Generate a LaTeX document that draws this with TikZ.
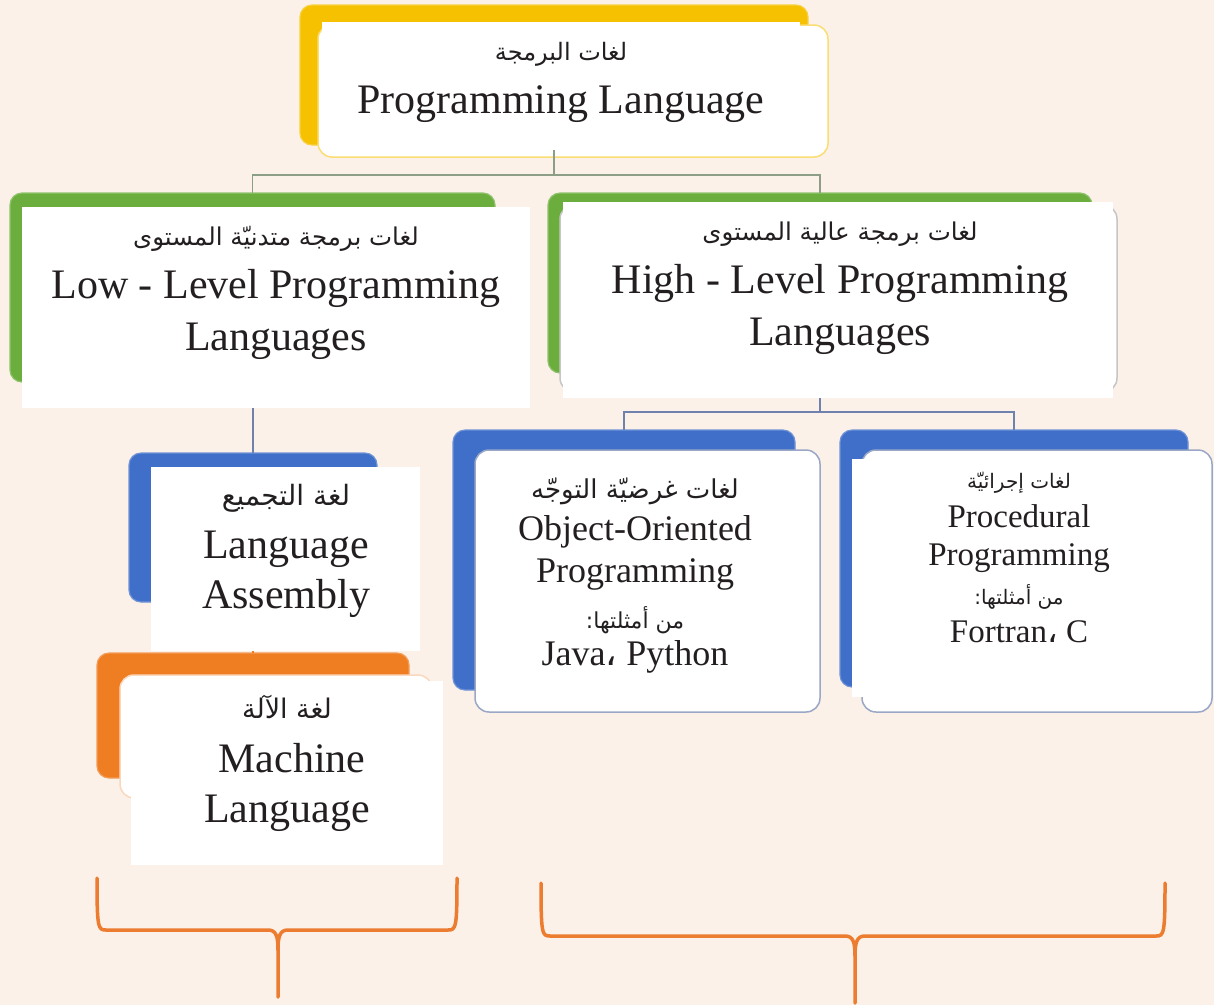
\documentclass[tikz,border=0pt]{standalone}
\usepackage{fontspec}
\setmainfont{Liberation Serif}
\newfontfamily\arabicfont[Script=Arabic]{DejaVu Sans}
\TeXXeTstate=1
\definecolor{bgpeach}{HTML}{FCF1E8}
\definecolor{ygold}{HTML}{F5C100}
\definecolor{lgreen}{HTML}{6BAE3E}
\definecolor{lblue}{HTML}{3F6FC8}
\definecolor{lorange}{HTML}{EF7D22}
\definecolor{braceorange}{HTML}{EC7C30}
\definecolor{ink}{HTML}{231F20}
\definecolor{greenline}{HTML}{8D9E86}
\definecolor{blueline}{HTML}{6F82AD}
\tikzset{
  backbox/.style={rounded corners=12pt, fill=#1, draw=#1!75!white, line width=1.2pt, inner sep=0, outer sep=0},
  card/.style={rounded corners=14pt, fill=white, draw=#1, line width=1.5pt, inner sep=0, outer sep=0},
  whitebox/.style={fill=white, inner sep=0, outer sep=0},
  link/.style={line width=1.5pt, draw=#1},
  brace/.style={draw=braceorange, line width=3.5pt, line cap=round},
  en/.style={anchor=base, inner sep=0, text=ink},
  enL/.style={en, font=\fontsize{42}{50}\selectfont},
  enM/.style={en, font=\fontsize{36}{42}\selectfont},
  enS/.style={en, font=\fontsize{33}{40}\selectfont},
  ar/.style={en, font=\arabicfont\fontsize{#1}{#1}\selectfont}
}
\begin{document}
\begin{tikzpicture}[x=1pt,y=-1pt]
\useasboundingbox (0,0) rectangle (1214,1005);
\fill[bgpeach] (0,0) rectangle (1214,1005);

\node[backbox=ygold, minimum width=508, minimum height=140] (topback) at (554,75) {};
\node[card=ygold!55!white, minimum width=510, minimum height=132] (topcard) at (573,91) {};
\node[whitebox, minimum width=478, minimum height=128] (top) at (561,86) {};
\node[ar=24] (topar) at (561,60) {\beginR لغات البرمجة\endR};
\node[enL] (topen) at (561,113) {Programming Language};

\node[backbox=lgreen, minimum width=485, minimum height=189] (lowback) at (252.5,287.5) {};
\node[whitebox, minimum width=508, minimum height=201] (low) at (276,307.5) {};
\node[ar=24.5] (lowar) at (276,245) {\beginR لغات برمجة متدنيّة المستوى\endR};
\node[enL] (lowen) at (276,298) {Low - Level Programming};
\node[enL] (lowenb) at (276,350) {Languages};

\node[backbox=lgreen, minimum width=544, minimum height=180] (highback) at (820,283) {};
\node[card=gray!45, minimum width=557, minimum height=187] (highcard) at (838.5,298.5) {};
\node[whitebox, minimum width=550, minimum height=196] (high) at (838,300) {};
\node[ar=24.5] (highar) at (840,240) {\beginR لغات برمجة عالية المستوى\endR};
\node[enL] (highen) at (840,293) {High - Level Programming};
\node[enL] (highenb) at (840,345) {Languages};

\node[backbox=lblue, minimum width=248, minimum height=149] (asmback) at (253,527.5) {};
\node[whitebox, minimum width=269, minimum height=184] (asm) at (285.5,559) {};
\node[ar=28] (asmar) at (286,505) {\beginR لغة التجميع\endR};
\node[enL] (asmen) at (286,558) {Language};
\node[enL] (asmenb) at (286,608) {Assembly};

\node[backbox=lorange, minimum width=312, minimum height=125] (macback) at (253,715.5) {};
\node[card=lorange!30!white, minimum width=312, minimum height=123] (maccard) at (276,736.5) {};
\node[whitebox, minimum width=312, minimum height=184] (mac) at (287,773) {};
\node[ar=27] (macar) at (287,718) {\beginR لغة الآلة\endR};
\node[enL] (macen) at (292,772) {Machine};
\node[enL] (macenb) at (287,822) {Language};

\node[backbox=lblue, minimum width=342, minimum height=260] (oopback) at (624,560) {};
\node[card=blueline!70!white, minimum width=345, minimum height=262] (oopcard) at (647.5,581) {};
\node[whitebox, minimum width=290, minimum height=237] (oop) at (635,578.5) {};
\node[ar=26] (oopar) at (635,498) {\beginR لغات غرضيّة التوجّه\endR};
\node[enM] (oopen) at (635,540) {Object-Oriented};
\node[enM] (oopenb) at (635,582) {Programming};
\node[ar=22] (oopex) at (635,628) {\beginR من أمثلتها:\endR};
\node[enM] (oopexb) at (635,665) {Java{\arabicfont ،} Python};

\node[backbox=lblue, minimum width=348, minimum height=257] (procback) at (1014,558.5) {};
\node[card=blueline!70!white, minimum width=350, minimum height=262] (proccard) at (1037,581) {};
\node[whitebox, minimum width=336, minimum height=238] (proc) at (1020,578) {};
\node[ar=20] (procar) at (1019,488) {\beginR لغات إجرائيّة\endR};
\node[enS] (procen) at (1019,527) {Procedural};
\node[enS] (procenb) at (1019,565) {Programming};
\node[ar=20] (procex) at (1019,604) {\beginR من أمثلتها:\endR};
\node[enS] (procexb) at (1019,642) {Fortran{\arabicfont ،} C};

\draw[link=greenline] (topback.south |- top.south) -- ++(0,25) coordinate (tj) -| (lowback.north);
\draw[link=greenline] (tj) -| (highback.north);
\draw[link=blueline] (highback.south |- high.south) -- ++(0,14) coordinate (hj) -| (oopback.north);
\draw[link=blueline] (hj) -| (procback.north);
\draw[link=blueline] (low.south -| asmback.north) -- (asmback.north);
\draw[link=lorange] (asm.south -| macback.north) -- (macback.north);

\draw[brace] (97,878) .. controls (97,928) and (98,930) .. (106,930) -- (268,930) .. controls (276,930) and (278,936) .. (278,950) -- (278,997);
\draw[brace] (457,878) .. controls (457,928) and (456,930) .. (448,930) -- (288,930) .. controls (280,930) and (278,936) .. (278,950);
\draw[brace] (541,883) .. controls (541,934) and (542,936) .. (550,936) -- (845,936) .. controls (853,936) and (855,942) .. (855,956) -- (855,1003);
\draw[brace] (1165,883) .. controls (1165,934) and (1164,936) .. (1156,936) -- (865,936) .. controls (857,936) and (855,942) .. (855,956);
\end{tikzpicture}
\end{document}
